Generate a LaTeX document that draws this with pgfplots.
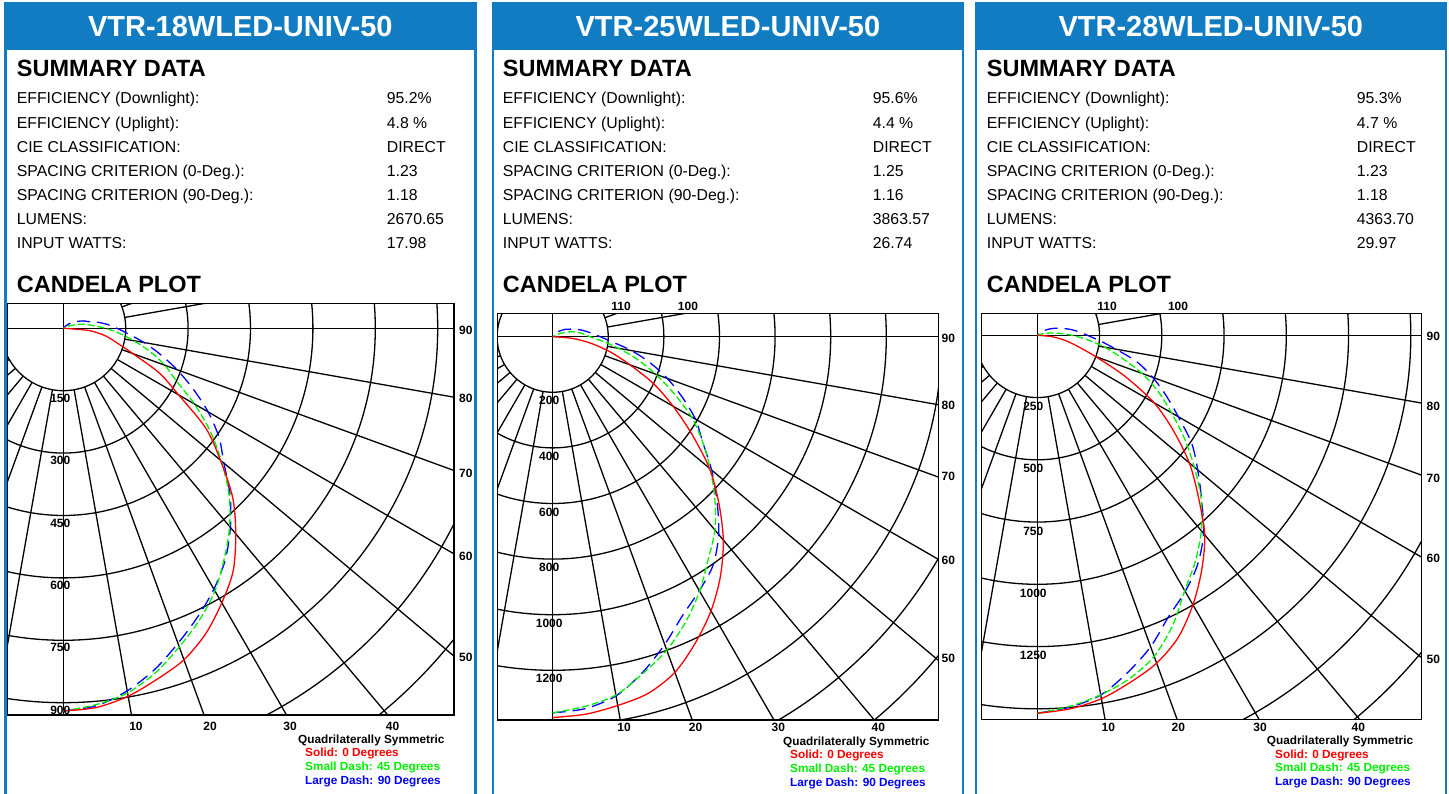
\documentclass[border=0pt]{standalone}
\usepackage{pgfplots}
\pgfplotsset{compat=1.18}
\usepackage{pgfplotstable}
\usepackage{fontspec}
\setmainfont{Liberation Sans}
\definecolor{hdr}{RGB}{18,124,194}
\definecolor{cgrn}{RGB}{0,240,0}

% angle from nadir (deg), candela for the 0, 45 and 90 degree planes
\pgfplotstableread{
ang red green blue
0 920 920 920
5 915 908 911
10 898 890 885
15 873 857 849
20 848 815 806
25 810 774 765
30 762 729 724
35 712 675 679
40 645 622 625
45 576 563 567
50 493 496 504
55 418 431 457
60 320 364 402
65 255 300 344
70 178 260 291
75 132 216 241
80 102 172 197
85 62 135 157
90 0 101 129
95 nan 73 106
100 nan 54 84
105 nan 36 62
110 nan 20 52
115 nan 8 40
120 nan 0 30
125 nan nan 22
130 nan nan 14
135 nan nan 6
140 nan nan 0
}\tabA

\pgfplotstableread{
ang red green blue
0 1370 1353 1353
5 1363 1335 1343
10 1347 1309 1312
15 1328 1254 1250
20 1285 1200 1178
25 1215 1132 1106
30 1139 1057 1055
35 1052 976 1005
40 955 908 929
45 845 825 836
50 736 740 746
55 611 658 658
60 500 576 593
65 401 480 514
70 296 394 439
75 217 315 363
80 143 241 288
85 74 178 215
90 0 134 171
95 nan 112 141
100 nan 91 118
105 nan 69 98
110 nan 44 80
115 nan 25 64
120 nan 8 53
125 nan 0 41
130 nan nan 31
135 nan nan 18
140 nan nan 6
145 nan nan 0
}\tabB

\pgfplotstableread{
ang red green blue
0 1518 1518 1518
5 1506 1496 1499
10 1482 1466 1467
15 1443 1428 1402
20 1401 1372 1331
25 1339 1286 1247
30 1250 1184 1188
35 1151 1107 1123
40 1046 1025 1039
45 914 931 933
50 797 823 841
55 667 721 757
60 541 622 654
65 387 536 570
70 248 448 493
75 164 351 415
80 109 274 321
85 55 202 252
90 0 140 201
95 nan 91 166
100 nan 55 136
105 nan 25 107
110 nan 8 84
115 nan 0 64
120 nan nan 47
125 nan nan 32
130 nan nan 18
135 nan nan 5
140 nan nan 0
}\tabC

\tikzset{
  gl/.style={black, line width=1.3pt},
  cr/.style={red, line width=1.3pt, smooth, tension=0.5},
  cg/.style={cgrn, line width=1.3pt, dash pattern=on 7pt off 3pt, smooth, tension=0.5},
  cb/.style={blue, line width=1.3pt, dash pattern=on 13pt off 7pt, smooth, tension=0.5},
  lab/.style={font=\fontsize{12}{13}\selectfont\bfseries, inner sep=0pt},
  leg/.style={font=\fontsize{11.8}{12}\selectfont\bfseries, inner sep=0pt, anchor=base west},
  row/.style={font=\fontsize{15.8}{18}\selectfont, inner sep=0pt, anchor=base west},
  big/.style={font=\fontsize{23.5}{26}\selectfont\bfseries, inner sep=0pt, anchor=base west},
}
\pgfplotsset{candela/.style={scale only axis, anchor=south west,
  xtick=\empty, ytick=\empty, clip mode=global, unbounded coords=discard,
  axis line style={black, line width=1.5pt},
  axis background/.style={fill=white}}}

\newcommand{\cgrid}[2]{%
  \draw[gl] (axis cs:-10000,0) -- (axis cs:10000,0);
  \draw[gl] (axis cs:0,-10000) -- (axis cs:0,10000);
  \pgfplotsinvokeforeach{1,...,11}{\draw[gl] (axis cs:0,0) circle[radius=##1*#2];}
  \pgfplotsinvokeforeach{-80,-70,...,-10,10,20,...,80,100,110,...,170}{%
    \draw[gl] (axis cs:{#1*sin(##1)},{-#1*cos(##1)}) -- (axis cs:{10000*sin(##1)},{-10000*cos(##1)});}
}
\newcommand{\curves}[1]{%
  \addplot[cb] table[x expr={\thisrow{blue}*sin(\thisrow{ang})}, y expr={-\thisrow{blue}*cos(\thisrow{ang})}] {#1};
  \addplot[cg] table[x expr={\thisrow{green}*sin(\thisrow{ang})}, y expr={-\thisrow{green}*cos(\thisrow{ang})}] {#1};
  \addplot[cr] table[x expr={\thisrow{red}*sin(\thisrow{ang})}, y expr={-\thisrow{red}*cos(\thisrow{ang})}] {#1};
}
% #1 frame left, #2 title
\newcommand{\frameP}[2]{%
  \fill[hdr] (#1,-2) rectangle (#1+472.7,-50);
  \fill[hdr] (#1,-50) rectangle (#1+2.7,-794);
  \fill[hdr] (#1+470,-50) rectangle (#1+472.7,-794);
  \node[font=\fontsize{29}{32}\selectfont\bfseries, text=white, inner sep=0pt, anchor=base] at (#1+236.3,-36.7) {#2};
}
% #1 text offset, #2..#8 values
\newcommand{\summary}[8]{%
  \node[big] at (16.7+#1,-76.7) {SUMMARY DATA};
  \node[row] at (16.7+#1,-104) {EFFICIENCY (Downlight):};
  \node[row] at (16.7+#1,-128.1) {EFFICIENCY (Uplight):};
  \node[row] at (16.7+#1,-152.2) {CIE CLASSIFICATION:};
  \node[row] at (16.7+#1,-176.2) {SPACING CRITERION (0-Deg.):};
  \node[row] at (16.7+#1,-200.2) {SPACING CRITERION (90-Deg.):};
  \node[row] at (16.7+#1,-224.2) {LUMENS:};
  \node[row] at (16.7+#1,-248.3) {INPUT WATTS:};
  \node[row] at (386.7+#1,-104) {#2};
  \node[row] at (386.7+#1,-128.1) {#3};
  \node[row] at (386.7+#1,-152.2) {#4};
  \node[row] at (386.7+#1,-176.2) {#5};
  \node[row] at (386.7+#1,-200.2) {#6};
  \node[row] at (386.7+#1,-224.2) {#7};
  \node[row] at (386.7+#1,-248.3) {#8};
  \node[big] at (16.7+#1,-292.7) {CANDELA PLOT};
}
% #1 x quad, #2 x others, #3 first baseline
\newcommand{\legendtxt}[3]{%
  \node[leg] at (#1,-#3) {Quadrilaterally Symmetric};
  \node[leg, text=red] at (#2,-#3-13.7) {Solid: 0 Degrees};
  \node[leg, text=cgrn] at (#2,-#3-27.5) {Small Dash: 45 Degrees};
  \node[leg, text=blue] at (#2,-#3-41.2) {Large Dash: 90 Degrees};
}

\begin{document}
\begin{tikzpicture}[x=1pt,y=1pt]
\path[use as bounding box] (0,0) rectangle (1449,-794);
\fill[white] (0,0) rectangle (1449,-794);

\frameP{4}{VTR-18WLED-UNIV-50}
\frameP{491.6}{VTR-25WLED-UNIV-50}
\frameP{974.5}{VTR-28WLED-UNIV-50}

\summary{0}{95.2\%}{4.8 \%}{DIRECT}{1.23}{1.18}{2670.65}{17.98}
\summary{486}{95.6\%}{4.4 \%}{DIRECT}{1.25}{1.16}{3863.57}{26.74}
\summary{970}{95.3\%}{4.7 \%}{DIRECT}{1.23}{1.18}{4363.70}{29.97}

% ---------- panel 1
\begin{axis}[candela, at={(7.3pt,-715pt)}, width=446.7pt, height=411.5pt,
  xmin=-134.6, xmax=939.2, ymin=-929.6, ymax=59.6]
\cgrid{150}{62.4pt}
\curves{\tabA}
\node[lab, xshift=-3pt, yshift=-7.5pt] at (axis cs:0,-150) {150};
\node[lab, xshift=-3pt, yshift=-7.5pt] at (axis cs:0,-300) {300};
\node[lab, xshift=-3pt, yshift=-7.5pt] at (axis cs:0,-450) {450};
\node[lab, xshift=-3pt, yshift=-7.5pt] at (axis cs:0,-600) {600};
\node[lab, xshift=-3pt, yshift=-7.5pt] at (axis cs:0,-750) {750};
\node[lab, xshift=-3pt, yshift=-7.5pt] at (axis cs:0,-900) {900};
\end{axis}

% ---------- panel 2
\begin{axis}[candela, at={(497.7pt,-720pt)}, width=440.6pt, height=406.7pt,
  xmin=-197.8, xmax=1387.1, ymin=-1378.8, ymax=84.2]
\cgrid{200}{55.6pt}
\curves{\tabB}
\node[lab, xshift=-3.5pt, yshift=-8.5pt] at (axis cs:0,-200) {200};
\node[lab, xshift=-3.5pt, yshift=-8.5pt] at (axis cs:0,-400) {400};
\node[lab, xshift=-3.5pt, yshift=-8.5pt] at (axis cs:0,-600) {600};
\node[lab, xshift=-3.5pt, yshift=-8.5pt] at (axis cs:0,-800) {800};
\node[lab, xshift=-3.5pt, yshift=-8.5pt] at (axis cs:0,-1000) {1000};
\node[lab, xshift=-3.5pt, yshift=-8.5pt] at (axis cs:0,-1200) {1200};
\end{axis}

% ---------- panel 3
\begin{axis}[candela, at={(981.7pt,-719.3pt)}, width=440pt, height=406pt,
  xmin=-223.3, xmax=1543.8, ymin=-1542.2, ymax=88.4]
\cgrid{250}{62.25pt}
\curves{\tabC}
\node[lab, xshift=-4pt, yshift=-9pt] at (axis cs:0,-250) {250};
\node[lab, xshift=-4pt, yshift=-9pt] at (axis cs:0,-500) {500};
\node[lab, xshift=-4pt, yshift=-9pt] at (axis cs:0,-750) {750};
\node[lab, xshift=-4pt, yshift=-9pt] at (axis cs:0,-1000) {1000};
\node[lab, xshift=-4pt, yshift=-9pt] at (axis cs:0,-1250) {1250};
\end{axis}

% angle labels
\node[lab] at (465.8,-330) {90};
\node[lab] at (465.8,-398.5) {80};
\node[lab] at (465.8,-473) {70};
\node[lab] at (465.8,-556.5) {60};
\node[lab] at (465.8,-657) {50};
\node[lab] at (136,-726) {10};
\node[lab] at (210,-726) {20};
\node[lab] at (290,-726) {30};
\node[lab] at (392.5,-726) {40};

\node[lab] at (948.3,-338.3) {90};
\node[lab] at (948.3,-405) {80};
\node[lab] at (948.3,-476.7) {70};
\node[lab] at (948.3,-560) {60};
\node[lab] at (948.3,-658.3) {50};
\node[lab] at (624,-727.5) {10};
\node[lab] at (695.5,-727.5) {20};
\node[lab] at (778.3,-727.5) {30};
\node[lab] at (878.3,-727.5) {40};
\node[lab] at (621,-306) {110};
\node[lab] at (688,-306) {100};

\node[lab] at (1433.3,-336.7) {90};
\node[lab] at (1433.3,-406.7) {80};
\node[lab] at (1433.3,-478.3) {70};
\node[lab] at (1433.3,-558.3) {60};
\node[lab] at (1433.3,-659.3) {50};
\node[lab] at (1108.3,-727.5) {10};
\node[lab] at (1178.3,-727.5) {20};
\node[lab] at (1260,-727.5) {30};
\node[lab] at (1358.3,-727.5) {40};
\node[lab] at (1107,-306) {110};
\node[lab] at (1178,-306) {100};

\legendtxt{298}{305}{743}
\legendtxt{783}{790}{745}
\legendtxt{1266.7}{1275}{744.3}
\end{tikzpicture}
\end{document}
